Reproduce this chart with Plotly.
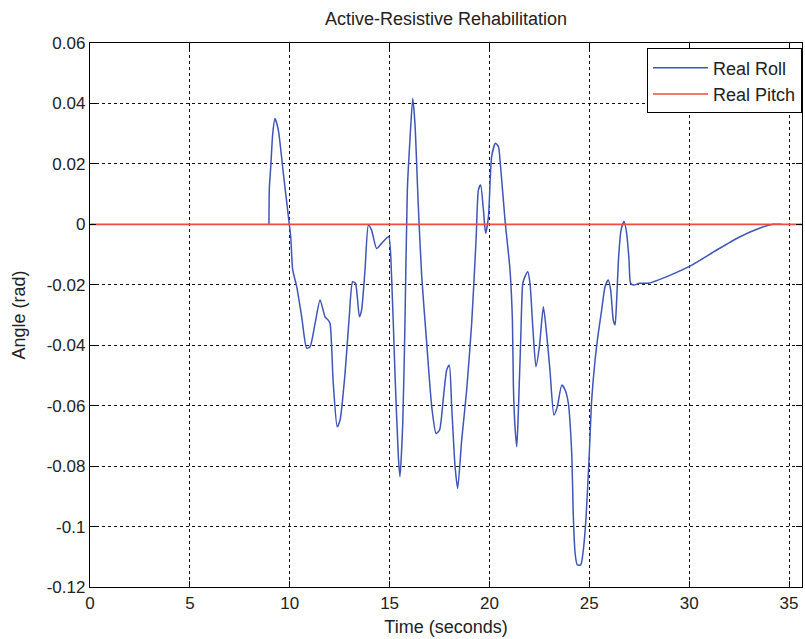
import plotly.graph_objects as go

# Real Roll trace (time in seconds, angle in rad)
roll_time = [8.96, 8.98, 9.05, 9.15, 9.26, 9.43, 9.68, 9.98, 10.05, 10.15, 10.35, 10.6, 10.85,
             11.02, 11.27, 11.52, 11.77, 11.93, 12.02, 12.18, 12.38, 12.52, 12.77, 12.98, 13.15,
             13.29, 13.49, 13.6, 13.77, 13.94, 14.1, 14.35, 14.6, 14.95, 15.1, 15.27, 15.44,
             15.52, 15.66, 15.77, 15.89, 16.02, 16.16, 16.27, 16.44, 16.61, 16.86, 17.11, 17.33,
             17.5, 17.7, 17.86, 17.99, 18.11, 18.28, 18.41, 18.61, 18.86, 19.11, 19.33, 19.45,
             19.56, 19.7, 19.81, 19.95, 20.11, 20.3, 20.45, 20.53, 20.78, 21.03, 21.15, 21.2,
             21.28, 21.37, 21.45, 21.57, 21.67, 21.78, 21.92, 22.03, 22.17, 22.33, 22.5, 22.7,
             22.86, 23.03, 23.23, 23.4, 23.62, 23.79, 23.95, 24.12, 24.2, 24.29, 24.4, 24.57,
             24.7, 24.84, 25.0, 25.12, 25.29, 25.45, 25.62, 25.79, 25.95, 26.07, 26.2, 26.29,
             26.37, 26.47, 26.59, 26.74, 26.87, 26.99, 27.07, 27.24, 27.51, 27.96, 28.88, 30.13,
             31.38, 32.55, 33.55, 34.22, 34.63]
roll_angle = [0.0, 0.012, 0.019, 0.030, 0.035, 0.0312, 0.0169, 0.0, -0.0041, -0.0151, -0.0206,
              -0.0306, -0.041, -0.0405, -0.0328, -0.025, -0.0306, -0.0317, -0.0328, -0.0526,
              -0.067, -0.0648, -0.0493, -0.0306, -0.019, -0.0195, -0.0306, -0.0283, -0.0151,
              -0.0002, -0.0019, -0.008, -0.0063, -0.0041, -0.0173, -0.0493, -0.0769, -0.0835,
              -0.0658, -0.0328, 0.0114, 0.0279, 0.0417, 0.0334, 0.0058, -0.0173, -0.0394,
              -0.0603, -0.0692, -0.0681, -0.057, -0.0482, -0.0466, -0.0603, -0.0802, -0.0874,
              -0.0714, -0.0548, -0.0328, -0.0052, 0.0114, 0.013, 0.0047, -0.003, 0.0025, 0.0224,
              0.0268, 0.0257, 0.0213, 0.0014, -0.0151, -0.0317, -0.0537, -0.067, -0.0736,
              -0.0614, -0.0372, -0.0195, -0.0173, -0.0157, -0.0195, -0.0339, -0.0471, -0.0405,
              -0.0273, -0.0361, -0.0482, -0.0631, -0.0603, -0.0532, -0.0548, -0.0592, -0.0758,
              -0.0967, -0.1089, -0.1127, -0.1127, -0.1078, -0.0967, -0.0758, -0.0581, -0.0449,
              -0.0361, -0.0283, -0.0206, -0.0184, -0.0217, -0.0317, -0.0333, -0.025, -0.0107,
              -0.0019, 0.0009, -0.003, -0.0118, -0.0195, -0.0201, -0.0195, -0.0195, -0.0173,
              -0.0135, -0.0085, -0.0041, -0.0012, 0.0, 0.0]

# Real Pitch trace
pitch_time = [0.0, 35.65]
pitch_angle = [0.0, 0.0]

x_ticks = [0, 5, 10, 15, 20, 25, 30, 35]
y_ticks = [0.06, 0.04, 0.02, 0.0, -0.02, -0.04, -0.06, -0.08, -0.1, -0.12]
y_tick_text = ["0.06", "0.04", "0.02", "0", "-0.02", "-0.04", "-0.06", "-0.08", "-0.1", "-0.12"]

FONT = "Liberation Sans Narrow, Arial Narrow, Liberation Sans, Arial, sans-serif"
TXT = "#222222"

fig = go.Figure()
fig.add_trace(go.Scatter(x=roll_time, y=roll_angle, mode="lines", name="Real Roll",
                         line=dict(color="#3f55b8", width=1.5, shape="spline", smoothing=0.6)))
fig.add_trace(go.Scatter(x=pitch_time, y=pitch_angle, mode="lines", name="Real Pitch",
                         line=dict(color="#ee4b43", width=1.6)))

axis_common = dict(
    showline=True, linecolor="#000", linewidth=1.4, mirror="ticks",
    ticks="inside", ticklen=6, tickcolor="#000", tickwidth=1,
    showgrid=True, gridcolor="#111", gridwidth=1.2, griddash="3px,3px",
    zeroline=False, tickfont=dict(family=FONT, size=17, color=TXT),
)

fig.update_layout(
    width=805, height=639,
    margin=dict(l=90, r=3, t=43, b=52),
    paper_bgcolor="white", plot_bgcolor="white",
    title=dict(text="Active-Resistive Rehabilitation", x=0.5, xanchor="center",
               xref="paper", y=1, yref="container", yanchor="top", pad=dict(t=12),
               font=dict(family=FONT, size=18, color=TXT)),
    showlegend=True,
    legend=dict(x=1.0, xanchor="right", y=0.99, yanchor="top",
                bgcolor="white", bordercolor="#000", borderwidth=1,
                font=dict(family=FONT, size=18, color=TXT), itemwidth=55,
                tracegroupgap=0),
    xaxis=dict(range=[0, 35.65], tickvals=x_ticks,
               title=dict(text="Time (seconds)", font=dict(family=FONT, size=18, color=TXT),
                          standoff=8),
               **axis_common),
    yaxis=dict(range=[-0.12, 0.06], tickvals=y_ticks, ticktext=y_tick_text,
               title=dict(text="Angle (rad)", font=dict(family=FONT, size=18, color=TXT),
                          standoff=16),
               **axis_common),
)

fig.write_html("out.html")
